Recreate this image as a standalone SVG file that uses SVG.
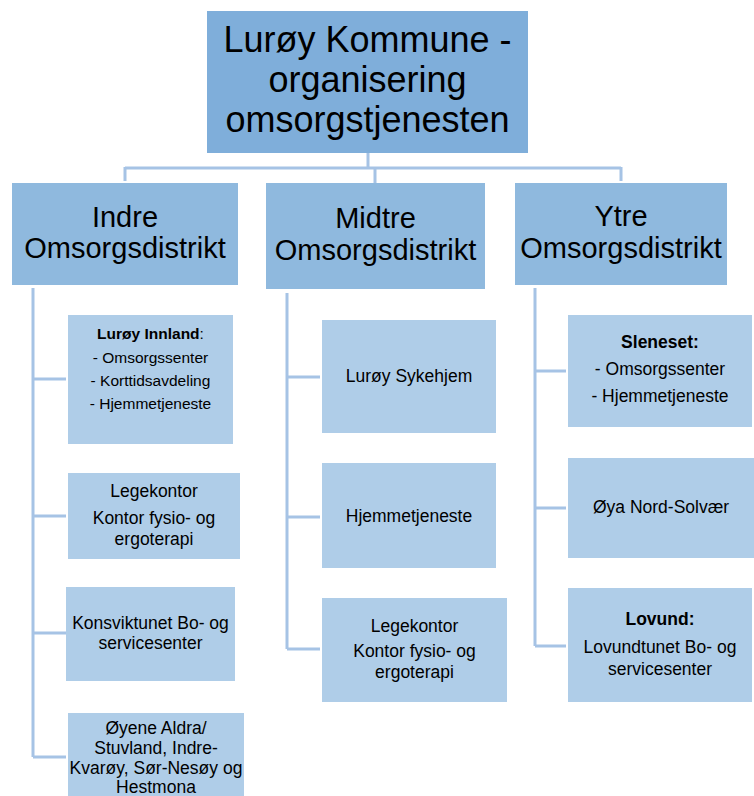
<svg xmlns="http://www.w3.org/2000/svg" width="754" height="796" viewBox="0 0 754 796">
<style>
.top{fill:#7FAEDA}
.dist{fill:#8FB9DE}
.child{fill:#AFCDE8}
text{font-family:"Liberation Sans",Arial,sans-serif;fill:#000;text-anchor:middle}
.t1{font-size:36px}
.t2{font-size:29px}
.t3{font-size:17.5px}
.t4{font-size:15.5px}
.b{font-weight:bold}
.conn{fill:none;stroke:#A6C3E5;stroke-width:3}
</style>
<rect x="0" y="0" width="754" height="796" fill="#fff"/>
<g id="connectors" class="conn">
<path d="M368,153 V168 M125,168 H621 M125,167 V181 M375,167 V183 M621,167 V181"/>
<path d="M33,288 V757 M33,379 H66 M33,516 H66 M33,633 H66 M33,757 H66"/>
<path d="M287,293 V649 M287,377 H320 M287,517 H320 M287,649 H320"/>
<path d="M535,288 V646 M535,371 H566 M535,508 H566 M535,646 H566"/>
</g>
<g id="root">
<rect class="top" x="207" y="11" width="321" height="142"/>
<text class="t1" x="367.5" y="52">Lurøy Kommune -</text>
<text class="t1" x="367.5" y="92">organisering</text>
<text class="t1" x="367.5" y="132">omsorgstjenesten</text>
</g>
<g id="indre">
<rect class="dist" x="12" y="183" width="226" height="102"/>
<text class="t2" x="125" y="227">Indre</text>
<text class="t2" x="125" y="258">Omsorgsdistrikt</text>
</g>
<g id="midtre">
<rect class="dist" x="266" y="183" width="219" height="106"/>
<text class="t2" x="375.5" y="228">Midtre</text>
<text class="t2" x="375.5" y="260">Omsorgsdistrikt</text>
</g>
<g id="ytre">
<rect class="dist" x="515" y="183" width="212" height="102"/>
<text class="t2" x="621" y="226">Ytre</text>
<text class="t2" x="621" y="258">Omsorgsdistrikt</text>
</g>
<g id="indre-1">
<rect class="child" x="68" y="315" width="165" height="129"/>
<text class="t4" x="150.5" y="339"><tspan class="b">Lurøy Innland</tspan>:</text>
<text class="t4" x="150.5" y="363">- Omsorgssenter</text>
<text class="t4" x="150.5" y="386">- Korttidsavdeling</text>
<text class="t4" x="150.5" y="409">- Hjemmetjeneste</text>
</g>
<g id="indre-2">
<rect class="child" x="68" y="473" width="172" height="86"/>
<text class="t3" x="154" y="497">Legekontor</text>
<text class="t3" x="154" y="524">Kontor fysio- og</text>
<text class="t3" x="154" y="545">ergoterapi</text>
</g>
<g id="indre-3">
<rect class="child" x="66" y="587" width="169" height="94"/>
<text class="t3" x="150.5" y="629">Konsviktunet Bo- og</text>
<text class="t3" x="150.5" y="649">servicesenter</text>
</g>
<g id="indre-4">
<rect class="child" x="68" y="713" width="176" height="90"/>
<text class="t3" x="156" y="734">Øyene Aldra/</text>
<text class="t3" x="156" y="754">Stuvland, Indre-</text>
<text class="t3" x="156" y="774">Kvarøy, Sør-Nesøy og</text>
<text class="t3" x="156" y="793">Hestmona</text>
</g>
<g id="midtre-1">
<rect class="child" x="322" y="320" width="174" height="113"/>
<text class="t3" x="409" y="382">Lurøy Sykehjem</text>
</g>
<g id="midtre-2">
<rect class="child" x="322" y="463" width="174" height="105"/>
<text class="t3" x="409" y="522">Hjemmetjeneste</text>
</g>
<g id="midtre-3">
<rect class="child" x="322" y="598" width="185" height="104"/>
<text class="t3" x="414.5" y="632">Legekontor</text>
<text class="t3" x="414.5" y="657">Kontor fysio- og</text>
<text class="t3" x="414.5" y="678">ergoterapi</text>
</g>
<g id="ytre-1">
<rect class="child" x="568" y="315" width="184" height="112"/>
<text class="t3 b" x="660" y="348">Sleneset:</text>
<text class="t3" x="660" y="375">- Omsorgssenter</text>
<text class="t3" x="660" y="402">- Hjemmetjeneste</text>
</g>
<g id="ytre-2">
<rect class="child" x="568" y="458" width="186" height="100"/>
<text class="t3" x="661" y="513">Øya Nord-Solvær</text>
</g>
<g id="ytre-3">
<rect class="child" x="568" y="588" width="184" height="114"/>
<text class="t3 b" x="660" y="625">Lovund:</text>
<text class="t3" x="660" y="653">Lovundtunet Bo- og</text>
<text class="t3" x="660" y="675">servicesenter</text>
</g>
</svg>
